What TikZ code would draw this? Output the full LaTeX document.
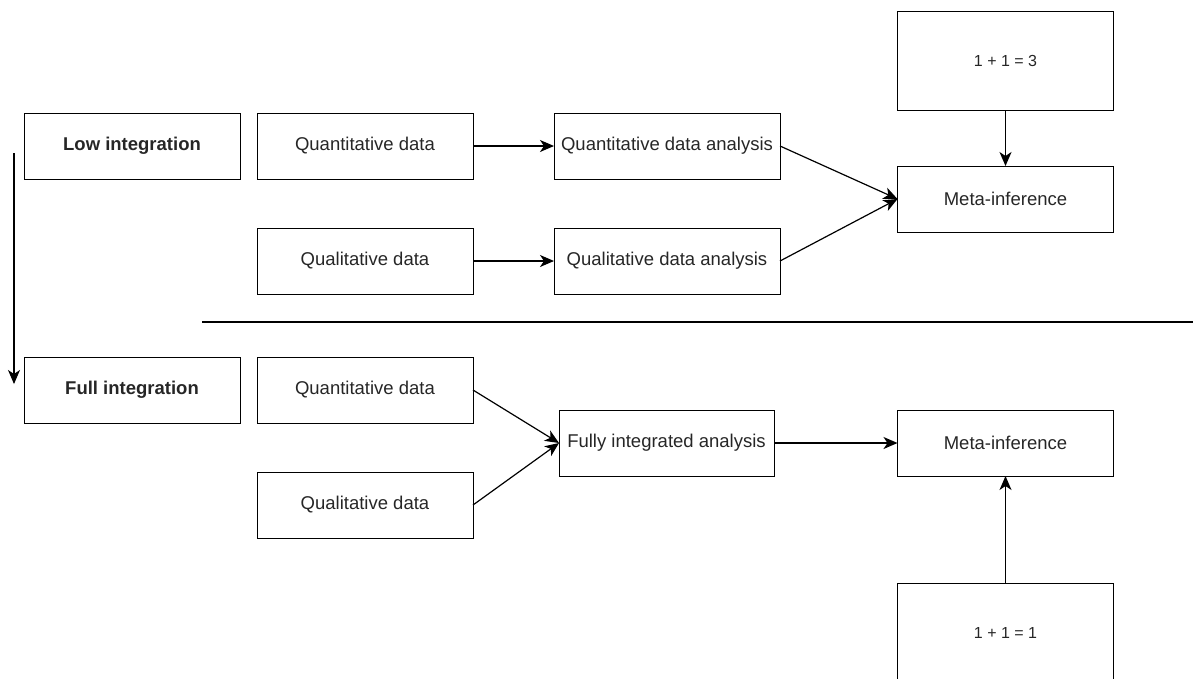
\documentclass[tikz,border=0pt]{standalone}
\usepackage{fontspec}
\setmainfont{Liberation Sans}
\usetikzlibrary{positioning, arrows.meta}

\begin{document}
\begin{tikzpicture}[
    x=1pt, y=-1pt,
    font=\fontsize{18.5}{22}\selectfont,
    mybox/.style={rectangle, draw, line width=1pt, inner sep=0pt, outer sep=0pt,
        minimum width=216pt, minimum height=66pt, align=center, text=black!85},
    mywide/.style={mybox, minimum width=226pt},
    mytall/.style={mybox, minimum height=99pt, font=\fontsize{16}{19}\selectfont},
    myarrow/.style={-{Stealth[length=14pt, width=12pt, inset=4pt]}, line width=1.2pt}
]
    \useasboundingbox (0,0) rectangle (1193,678);

    % low integration
    \node[mybox, font=\fontsize{18.5}{22}\selectfont\bfseries] (low) at (132,146) {Low integration};
    \node[mybox] (quantlow) at (365,146) {Quantitative data};
    \node[mybox] (quallow) at (365,261) {Qualitative data};
    \node[mywide] (quantana) at (667,146) {Quantitative data analysis};
    \node[mywide] (qualana) at (667,261) {Qualitative data analysis};
    \node[mybox] (metalow) at (1005.5,199) {Meta-inference};
    \node[mytall] (three) at (1005.5,60.5) {1 + 1 = 3};

    \draw[myarrow] (quantlow) -- (quantana);
    \draw[myarrow] (quallow) -- (qualana);
    \draw[myarrow] (quantana.east) -- (metalow.west);
    \draw[myarrow] (qualana.east) -- (metalow.west);
    \draw[myarrow] (three) -- (metalow);

    % separator
    \coordinate (sepleft) at (202,322);
    \coordinate (sepright) at (1193,322);
    \draw[line width=2.5pt] (sepleft) -- (sepright);

    % full integration
    \node[mybox, font=\fontsize{18.5}{22}\selectfont\bfseries] (full) at (132,390) {Full integration};
    \node[mybox] (quantfull) at (365,390) {Quantitative data};
    \node[mybox] (qualfull) at (365,505) {Qualitative data};
    \node[mybox, minimum width=215pt] (fully) at (666.5,443) {Fully integrated analysis};
    \node[mybox] (metafull) at (1005.5,443) {Meta-inference};
    \node[mytall] (one) at (1005.5,633) {1 + 1 = 1};

    \draw[myarrow] (quantfull.east) -- (fully.west);
    \draw[myarrow] (qualfull.east) -- (fully.west);
    \draw[myarrow] (fully) -- (metafull);
    \draw[myarrow] (one) -- (metafull);

    % low to full
    \coordinate (downtop) at (14,153);
    \coordinate (downend) at (14,384);
    \draw[myarrow] (downtop) -- (downend);

\end{tikzpicture}
\end{document}
